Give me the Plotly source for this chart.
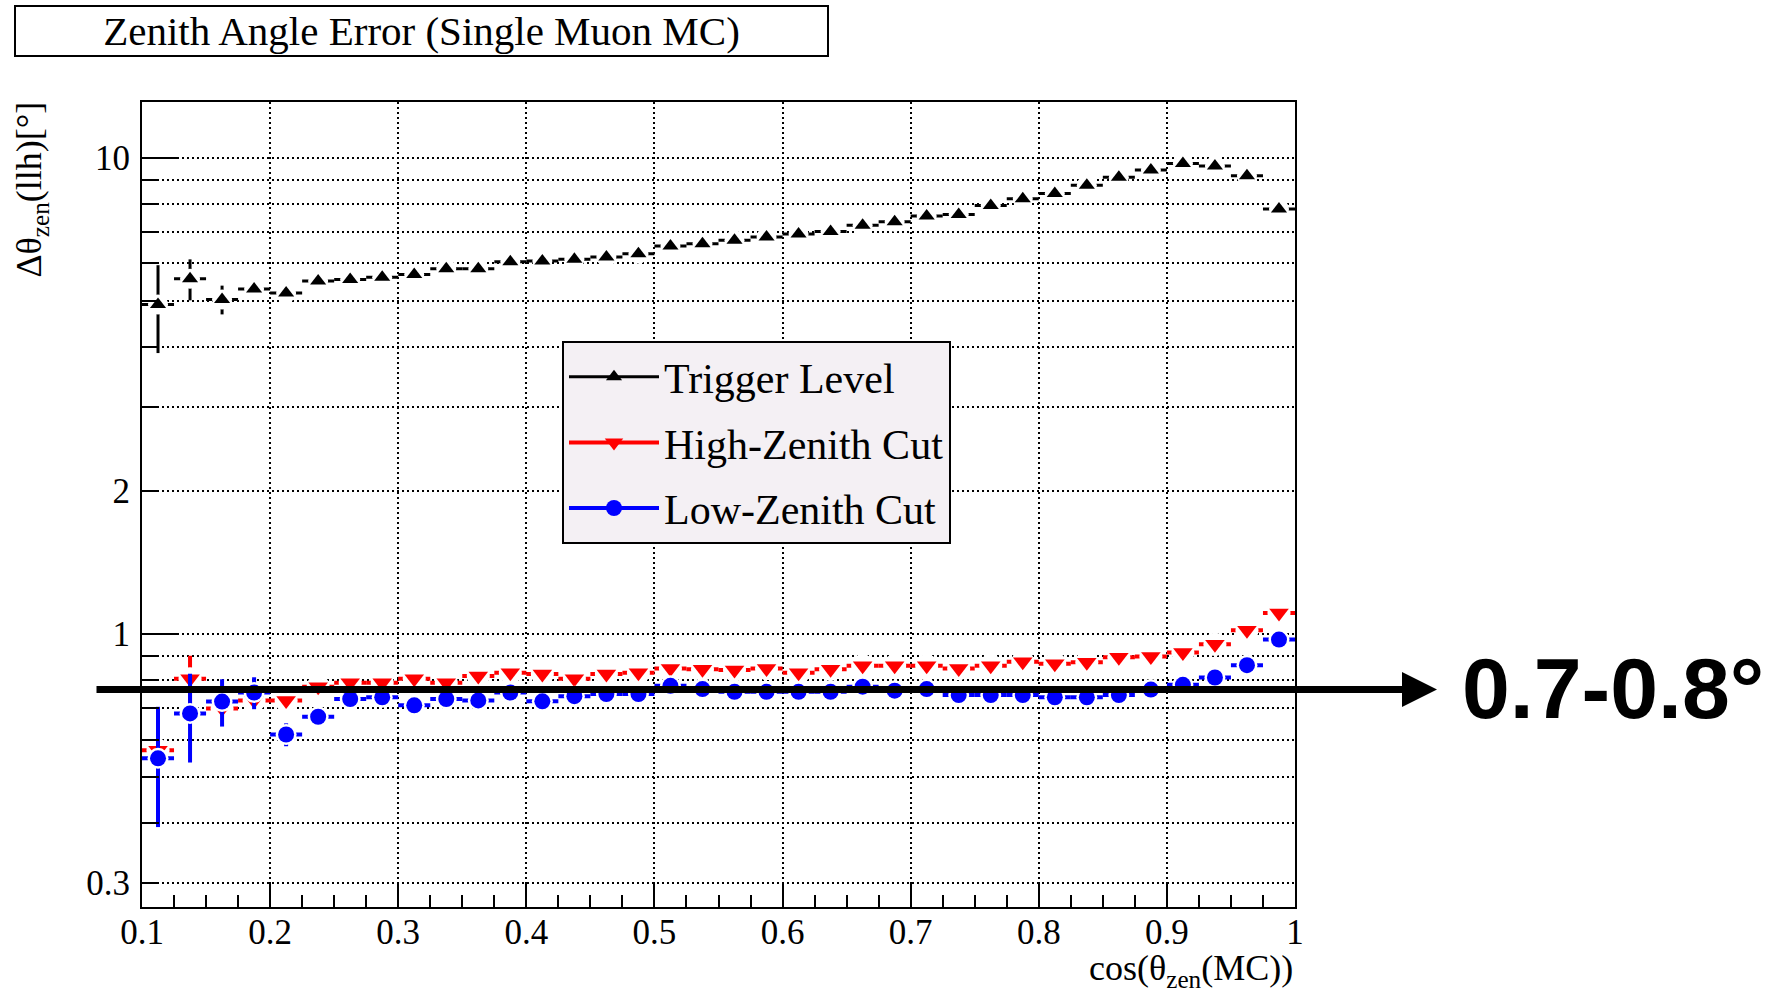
import math
import plotly.graph_objects as go

# ---------------- data ----------------
bin_centers = [0.1125, 0.1375, 0.1625, 0.1875, 0.2125, 0.2375, 0.2625, 0.2875, 0.3125,
               0.3375, 0.3625, 0.3875, 0.4125, 0.4375, 0.4625, 0.4875, 0.5125, 0.5375,
               0.5625, 0.5875, 0.6125, 0.6375, 0.6625, 0.6875, 0.7125, 0.7375, 0.7625,
               0.7875, 0.8125, 0.8375, 0.8625, 0.8875, 0.9125, 0.9375, 0.9625, 0.9875]
bin_half_width = 0.0125

trigger_level = [4.92, 5.57, 5.04, 5.30, 5.20, 5.51, 5.55, 5.61, 5.69, 5.85, 5.85, 6.05,
                 6.07, 6.12, 6.19, 6.29, 6.53, 6.60, 6.71, 6.82, 6.92, 7.00, 7.22, 7.34,
                 7.55, 7.60, 7.94, 8.20, 8.42, 8.76, 9.10, 9.43, 9.73, 9.61, 9.17, 7.81]
trigger_err = [1.03, 0.55, 0.35, 0.2, 0.15, 0.12, 0.1, 0.1, 0.08, 0.08, 0.08, 0.07,
               0.07, 0.06, 0.06, 0.06, 0.06, 0.06, 0.06, 0.06, 0.06, 0.06, 0.06, 0.06,
               0.06, 0.06, 0.06, 0.06, 0.06, 0.06, 0.06, 0.06, 0.06, 0.06, 0.06, 0.06]

high_zenith = [0.570, 0.805, 0.697, 0.725, 0.725, 0.775, 0.790, 0.790, 0.805, 0.790, 0.816, 0.829,
               0.824, 0.805, 0.824, 0.829, 0.846, 0.843, 0.840, 0.846, 0.829, 0.843, 0.857, 0.857,
               0.857, 0.846, 0.857, 0.874, 0.866, 0.872, 0.893, 0.897, 0.914, 0.951, 1.018, 1.107]
high_err = [0.10, 0.095, 0.03, 0.035, 0.02, 0.02, 0.015, 0.01, 0.01, 0.01, 0.01, 0.01,
            0.01, 0.01, 0.01, 0.01, 0.01, 0.01, 0.01, 0.01, 0.01, 0.01, 0.01, 0.01,
            0.01, 0.01, 0.01, 0.01, 0.01, 0.01, 0.01, 0.01, 0.01, 0.01, 0.01, 0.01]

low_zenith = [0.548, 0.681, 0.721, 0.753, 0.615, 0.670, 0.730, 0.736, 0.708, 0.730, 0.725, 0.753,
              0.722, 0.740, 0.748, 0.748, 0.778, 0.766, 0.756, 0.756, 0.756, 0.756, 0.775, 0.760,
              0.766, 0.744, 0.744, 0.744, 0.736, 0.736, 0.744, 0.764, 0.782, 0.810, 0.860, 0.973]
low_err = [0.155, 0.144, 0.082, 0.058, 0.034, 0.02, 0.012, 0.01, 0.01, 0.01, 0.01, 0.01,
           0.01, 0.01, 0.01, 0.01, 0.01, 0.01, 0.01, 0.01, 0.01, 0.01, 0.01, 0.01,
           0.01, 0.01, 0.01, 0.01, 0.01, 0.01, 0.01, 0.01, 0.01, 0.01, 0.01, 0.01]

series_names = ["Trigger Level", "High-Zenith Cut", "Low-Zenith Cut"]

x_tick_vals = [0.1, 0.2, 0.3, 0.4, 0.5, 0.6, 0.7, 0.8, 0.9, 1.0]
x_tick_text = ["0.1", "0.2", "0.3", "0.4", "0.5", "0.6", "0.7", "0.8", "0.9", "1"]
y_label_vals = [0.3, 1, 2, 10]
y_label_text = ["0.3", "1", "2", "10"]
y_minor_vals = [0.4, 0.5, 0.6, 0.7, 0.8, 0.9, 3, 4, 5, 6, 7, 8, 9]
y_long_tick_vals = [1, 10]

x_range = [0.1, 1.0]
y_range_vals = [0.267, 13.1]

arrow_level = 0.764
arrow_label = "0.7-0.8°"
title_text = "Zenith Angle Error (Single Muon MC)"
y_title = "Δθ<sub>zen</sub>(llh)[°]"
x_title = "cos(θ<sub>zen</sub>(MC))"

# ---------------- style ----------------
SERIF = "Liberation Serif, Times New Roman, serif"
SANS = "Liberation Sans, Arial, sans-serif"
y_range = [math.log10(y_range_vals[0]), math.log10(y_range_vals[1])]

styles = [
    dict(y=trigger_level, err=trigger_err, color="black", symbol="triangle-up", size=14,
         mask=20, thick=3),
    dict(y=high_zenith, err=high_err, color="#ff0000", symbol="triangle-down", size=17,
         mask=23, thick=4),
    dict(y=low_zenith, err=low_err, color="#0000ff", symbol="circle", size=16,
         mask=21, thick=4),
]

fig = go.Figure()

for name, st in zip(series_names, styles):
    # error bars with a white mask around the marker (ROOT-style gap)
    fig.add_trace(go.Scatter(
        x=bin_centers, y=st["y"], mode="markers", showlegend=False, hoverinfo="skip",
        marker=dict(symbol="circle", size=st["mask"], color="white", line=dict(width=0)),
        error_x=dict(type="constant", value=bin_half_width, color=st["color"],
                     thickness=st["thick"], width=0),
        error_y=dict(type="data", array=st["err"], color=st["color"],
                     thickness=st["thick"], width=0),
    ))
    fig.add_trace(go.Scatter(
        x=bin_centers, y=st["y"], mode="markers", showlegend=False, name=name,
        marker=dict(symbol=st["symbol"], size=st["size"], color=st["color"],
                    line=dict(width=0)),
    ))

# legend entries (line + marker samples)
for i, (name, st) in enumerate(zip(series_names, styles)):
    fig.add_trace(go.Scatter(
        x=[None], y=[None], mode="lines+markers", name=name, legendgroup=f"g{i}",
        line=dict(color=st["color"], width=st["thick"]),
        marker=dict(symbol=st["symbol"], size=st["size"], color=st["color"]),
    ))

# dummy trace for the overlay axis carrying the long ticks
fig.add_trace(go.Scatter(x=[None], y=[None], yaxis="y2", showlegend=False,
                         mode="markers", hoverinfo="skip"))

fig.update_layout(
    width=1781, height=992,
    margin=dict(l=142, r=486, t=102, b=85, pad=0),
    paper_bgcolor="white", plot_bgcolor="white",
    font=dict(family=SERIF, color="black"),
    showlegend=True,
    legend=dict(
        x=(562 - 142) / 1153, y=(907 - 341) / 805, xanchor="left", yanchor="top",
        bgcolor="#f4f0f4", bordercolor="black", borderwidth=2,
        font=dict(family=SERIF, size=42, color="black"),
        itemwidth=90, tracegroupgap=8, traceorder="grouped",
    ),
    xaxis=dict(
        range=x_range, showline=True, linecolor="black", linewidth=2, mirror=True,
        tickmode="array", tickvals=x_tick_vals, ticktext=x_tick_text,
        ticks="inside", ticklen=24, tickwidth=2, tickcolor="black",
        tickfont=dict(family=SERIF, size=35, color="black"),
        ticklabelstandoff=-7,
        showgrid=True, gridcolor="black", gridwidth=1.5, griddash="2px,3px",
        zeroline=False,
        minor=dict(dtick=0.025, tick0=0.1, ticks="inside", ticklen=12, tickwidth=2,
                   tickcolor="black", showgrid=False),
    ),
    yaxis=dict(
        type="log", range=y_range, showline=True, linecolor="black", linewidth=2,
        mirror=True,
        tickmode="array", tickvals=y_label_vals, ticktext=y_label_text,
        ticks="inside", ticklen=17, tickwidth=2, tickcolor="black",
        tickfont=dict(family=SERIF, size=35, color="black"),
        ticklabelstandoff=3,
        showgrid=True, gridcolor="black", gridwidth=1.5, griddash="2px,3px",
        zeroline=False,
        minor=dict(tickmode="array", tickvals=y_minor_vals, ticks="inside", ticklen=17,
                   tickwidth=2, tickcolor="black", showgrid=True, gridcolor="black",
                   gridwidth=1.5, griddash="2px,3px"),
    ),
    yaxis2=dict(
        type="log", range=y_range, overlaying="y", side="left",
        tickmode="array", tickvals=y_long_tick_vals, ticks="inside", ticklen=35,
        tickwidth=2, tickcolor="black", showticklabels=False, showgrid=False,
        showline=False, zeroline=False,
    ),
)

annotations = [
    dict(text=title_text, xref="paper", yref="paper", x=(421.5 - 142) / 1153,
         y=(907 - 31) / 805, xanchor="center", yanchor="middle", showarrow=False,
         font=dict(family=SERIF, size=41, color="black"), bordercolor="black",
         borderwidth=2, borderpad=0, width=811, height=48, bgcolor="white"),
    dict(text=y_title, xref="paper", yref="paper", x=(32 - 142) / 1153, y=1.003,
         xanchor="center", yanchor="top", textangle=-90, showarrow=False,
         font=dict(family=SERIF, size=36, color="black")),
    dict(text=x_title, xref="paper", yref="paper", x=1.0, y=(907 - 946) / 805,
         xanchor="right", yanchor="top", showarrow=False,
         font=dict(family=SERIF, size=36, color="black")),
    dict(text="", xref="paper", yref="y", x=(1437 - 142) / 1153,
         y=math.log10(arrow_level), ax=-(1437 - 95), ay=0, axref="pixel", ayref="pixel",
         showarrow=True, arrowhead=2, arrowsize=1.0, arrowwidth=7, arrowcolor="black",
         standoff=0),
    dict(text=arrow_label, xref="paper", yref="y", x=(1460 - 142) / 1153,
         y=math.log10(arrow_level), xanchor="left", yanchor="middle", showarrow=False,
         yshift=2, font=dict(family=SANS, size=86, color="black", weight="bold")),
]
fig.update_layout(annotations=annotations)

fig.write_html("out.html")
